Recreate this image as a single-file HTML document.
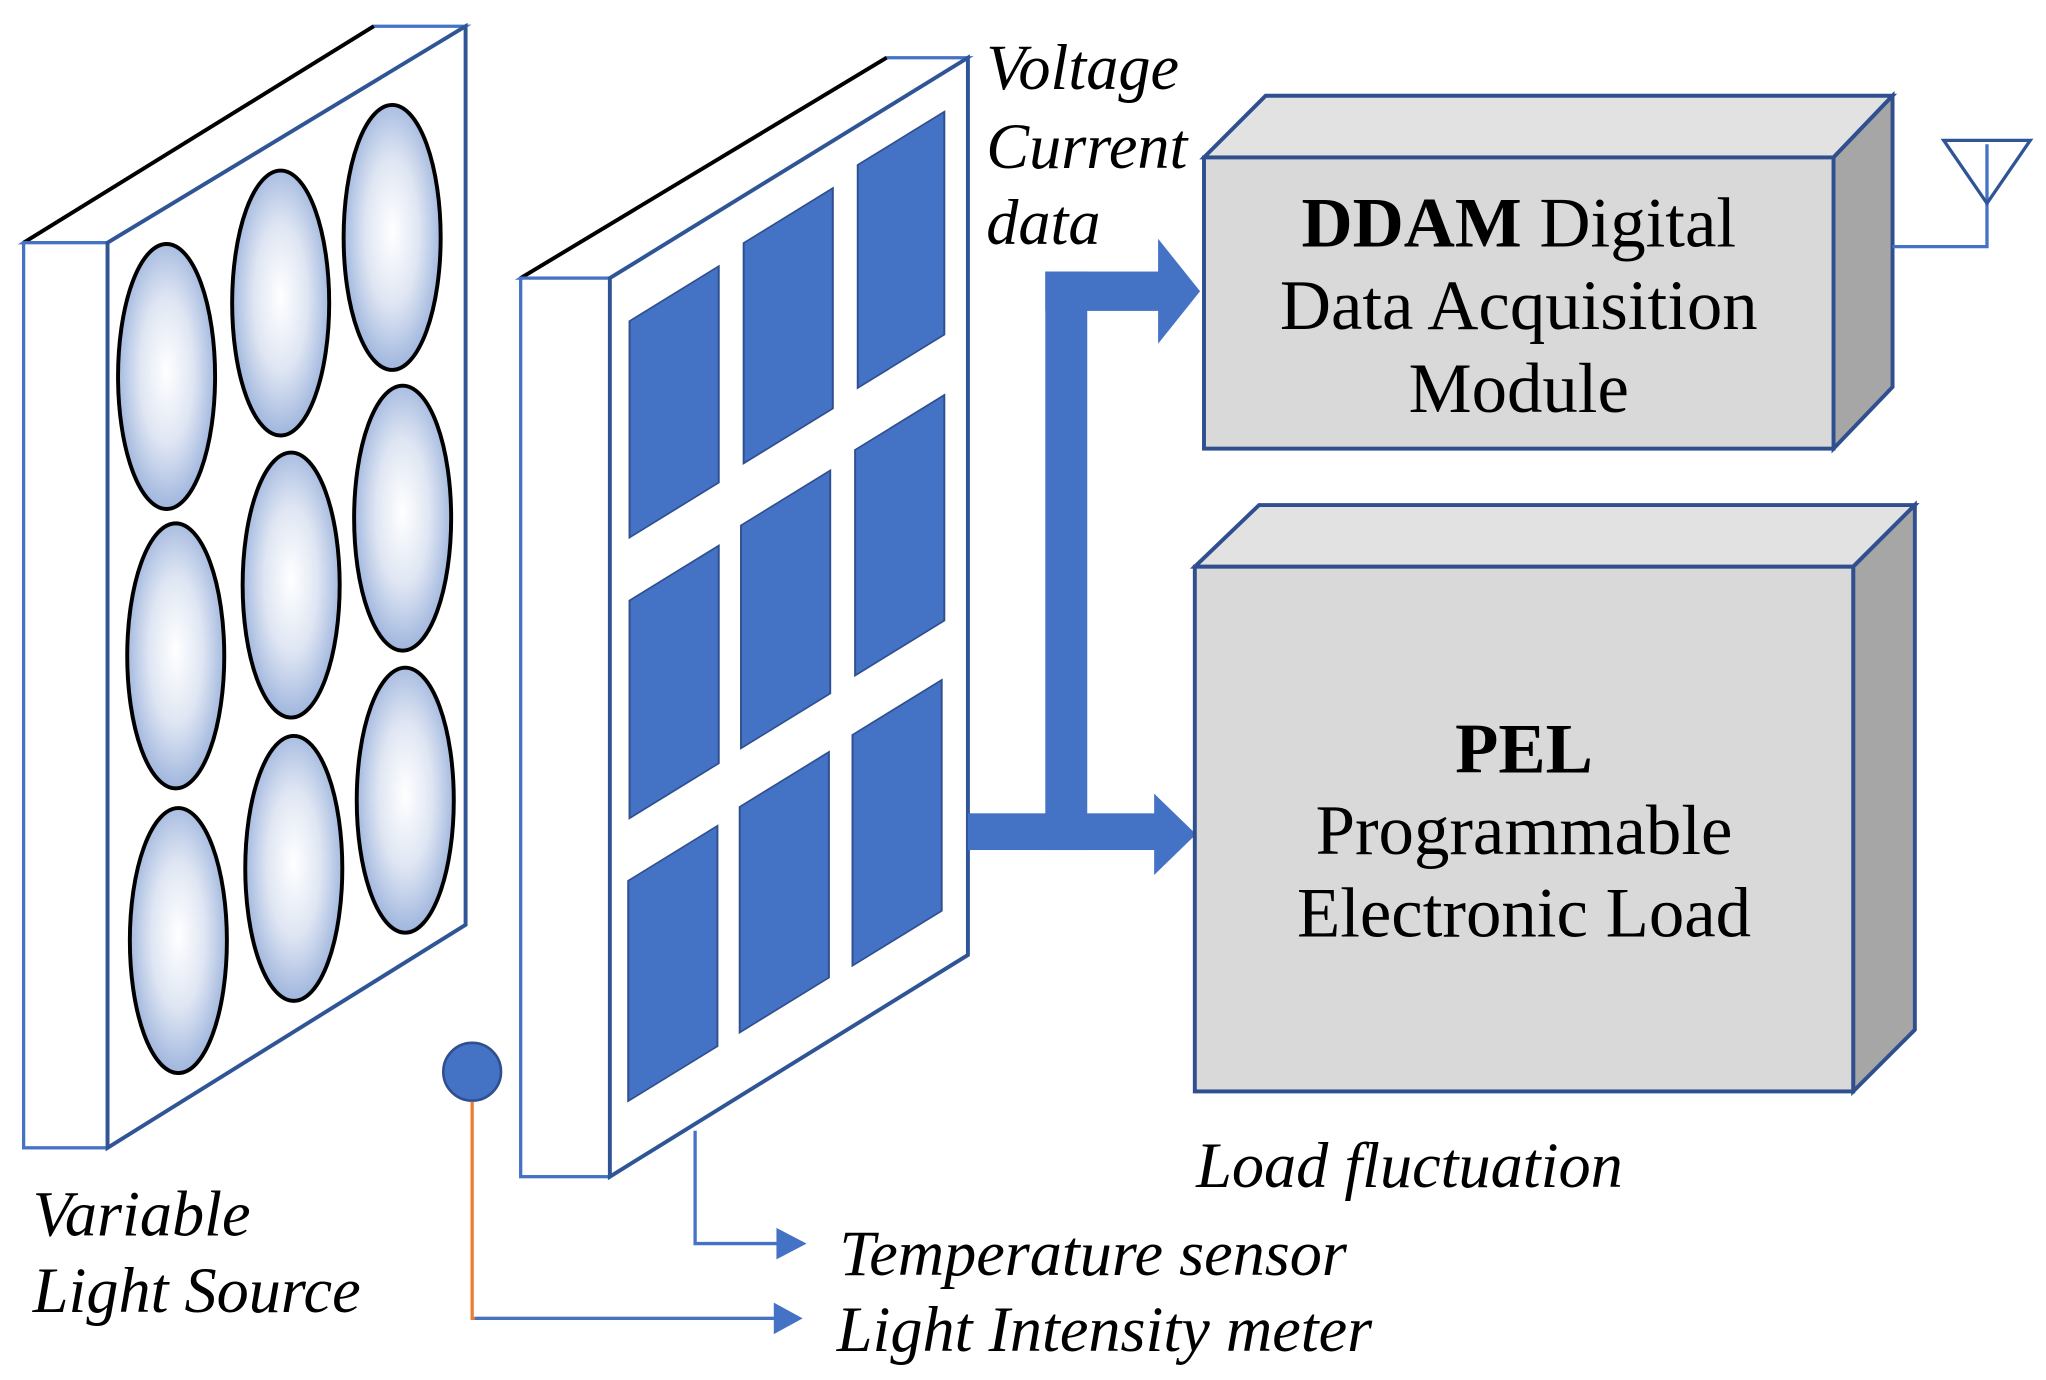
<!DOCTYPE html>
<html><head><meta charset="utf-8"><style>
html,body{margin:0;padding:0;background:#fff;}
svg{display:block;}
text{font-family:"Liberation Serif",serif;fill:#000;}
.it{font-style:italic;font-size:49px;}
.bx{font-size:54px;}
</style></head><body>
<svg width="2046" height="1380" viewBox="0 0 1560 1052" preserveAspectRatio="none" xmlns="http://www.w3.org/2000/svg">
<defs>
<radialGradient id="g" cx="50%" cy="48%" r="55%">
<stop offset="0" stop-color="#ffffff"/><stop offset="0.5" stop-color="#dfe6f3"/><stop offset="1" stop-color="#98b0db"/>
</radialGradient>
</defs>
<polygon points="18,185 285,20 355,20 82,185" fill="#fff" stroke="#4472c4" stroke-width="2.5"/>
<line x1="18" y1="185" x2="285" y2="20" stroke="#000" stroke-width="3"/>
<rect x="18" y="185" width="64" height="690" fill="#fff" stroke="#4472c4" stroke-width="2.5"/>
<polygon points="82,185 355,20 355,705 82,875" fill="#fff" stroke="#2f5597" stroke-width="3"/>
<g fill="url(#g)" stroke="#000" stroke-width="3">
<ellipse cx="127" cy="287" rx="37" ry="101"/>
<ellipse cx="134" cy="500" rx="37" ry="101"/>
<ellipse cx="136" cy="717" rx="37" ry="101"/>
<ellipse cx="214" cy="231" rx="37" ry="101"/>
<ellipse cx="222" cy="446" rx="37" ry="101"/>
<ellipse cx="224" cy="662" rx="37" ry="101"/>
<ellipse cx="299" cy="181" rx="37" ry="101"/>
<ellipse cx="307" cy="395" rx="37" ry="101"/>
<ellipse cx="309" cy="610" rx="37" ry="101"/>
</g>
<polygon points="397,212 676,44 738,44 465,212" fill="#fff" stroke="#4472c4" stroke-width="2.5"/>
<line x1="397" y1="212" x2="676" y2="44" stroke="#000" stroke-width="3"/>
<rect x="397" y="212" width="68" height="685" fill="#fff" stroke="#4472c4" stroke-width="2.5"/>
<polygon points="465,212 738,44 738,728 465,897" fill="#fff" stroke="#2f5597" stroke-width="3"/>
<g transform="translate(465,212) skewY(-31.6)" fill="#4472c4" stroke="#2f4f8f" stroke-width="1.5">
<rect x="15" y="42" width="68" height="165"/>
<rect x="15" y="255" width="68" height="166"/>
<rect x="14" y="468" width="68" height="168"/>
<rect x="102" y="36" width="68" height="168"/>
<rect x="100" y="250" width="68" height="170"/>
<rect x="99" y="464" width="68" height="172"/>
<rect x="189" y="30" width="66" height="170"/>
<rect x="187" y="246" width="68" height="172"/>
<rect x="185" y="462" width="68" height="176"/>
</g>
<g fill="#4472c4">
<rect x="738" y="620" width="145" height="28"/>
<rect x="797" y="207" width="32" height="441"/>
<rect x="797" y="207" width="88" height="30"/>
<polygon points="883,182 915,222 883,262"/>
<polygon points="880,605 912,636 880,667"/>
</g>
<circle cx="360" cy="817" r="22" fill="#4472c4" stroke="#2f4f8f" stroke-width="2"/>
<polyline points="360,840 360,1005 595,1005" fill="none" stroke="#ed7d31" stroke-width="2.5"/>
<line x1="362" y1="1005" x2="595" y2="1005" stroke="#4472c4" stroke-width="2.5"/>
<polygon points="590,993 612,1005 590,1017" fill="#4472c4"/>
<polyline points="530,862 530,948 595,948" fill="none" stroke="#4472c4" stroke-width="2.5"/>
<polygon points="592,936 615,948 592,960" fill="#4472c4"/>
<polygon points="918,120 965,73 1443,73 1398,120" fill="#e2e2e2" stroke="#2f4f8f" stroke-width="3"/>
<polygon points="1398,120 1443,73 1443,295 1398,342" fill="#a6a6a6" stroke="#2f4f8f" stroke-width="3"/>
<rect x="918" y="120" width="480" height="222" fill="#d9d9d9" stroke="#2f4f8f" stroke-width="3"/>
<polyline points="1443,188 1515,188 1515,110" fill="none" stroke="#4472c4" stroke-width="2.5"/>
<polygon points="1482,107 1548,107 1515,155" fill="none" stroke="#2f5597" stroke-width="2.5"/>
<text class="bx" x="1158" y="188" text-anchor="middle"><tspan font-weight="bold">DDAM</tspan> Digital</text>
<text class="bx" x="1158" y="251" text-anchor="middle">Data Acquisition</text>
<text class="bx" x="1158" y="314" text-anchor="middle">Module</text>
<polygon points="911,432 960,385 1460,385 1413,432" fill="#e2e2e2" stroke="#2f4f8f" stroke-width="3"/>
<polygon points="1413,432 1460,385 1460,785 1413,832" fill="#a6a6a6" stroke="#2f4f8f" stroke-width="3"/>
<rect x="911" y="432" width="502" height="400" fill="#d9d9d9" stroke="#2f4f8f" stroke-width="3"/>
<text class="bx" x="1162" y="589" text-anchor="middle" font-weight="bold">PEL</text>
<text class="bx" x="1162" y="651" text-anchor="middle">Programmable</text>
<text class="bx" x="1162" y="714" text-anchor="middle">Electronic Load</text>
<text class="it" x="752" y="68">Voltage</text>
<text class="it" x="752" y="128">Current</text>
<text class="it" x="752" y="186">data</text>
<text class="it" x="912" y="905">Load fluctuation</text>
<text class="it" x="640" y="972">Temperature sensor</text>
<text class="it" x="638" y="1030">Light Intensity meter</text>
<text class="it" x="25" y="942">Variable</text>
<text class="it" x="25" y="1000">Light Source</text>
</svg>
</body></html>
